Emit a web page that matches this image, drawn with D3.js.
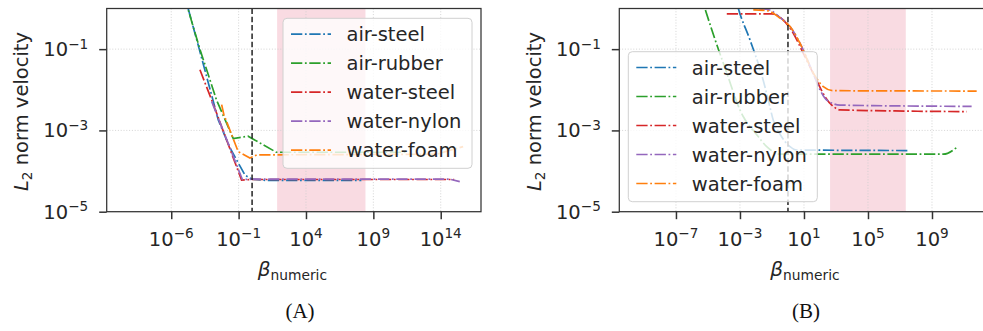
<!DOCTYPE html>
<html><head><meta charset="utf-8">
<script src="https://cdn.jsdelivr.net/npm/d3@7"></script>
<style>body{margin:0;background:#fff;overflow:hidden;} svg{display:block;}</style>
</head><body><svg id="c" width="983" height="331"></svg>
<script>
// ---------- data ----------
const seriesNames = ["air-steel", "air-rubber", "water-steel", "water-nylon", "water-foam"];
const seriesColors = ["#1f77b4", "#2ca02c", "#d62728", "#9467bd", "#ff7f0e"];

// Panel A
const aAirSteelX   = [7.9e-6, 1.8e-5, 1.2e-4, 3.1e-3, 2.2e-2, 0.30, 1, 10, 1.3e8];
const aAirSteelY   = [2.8, 1.0, 0.10, 1.8e-3, 3.8e-4, 7.9e-5, 6.3e-5, 5.9e-5, 5.9e-5];
const aAirRubberX  = [7.9e-6, 1.7e-5, 1.4e-4, 2.3e-3, 4.0e-2, 0.5, 63, 3.2e11];
const aAirRubberY  = [1.9, 1.0, 9.5e-2, 5.6e-3, 6.3e-4, 7.2e-4, 2.9e-4, 2.9e-4];
const aWaterSteelX = [1.35e-4, 1e-3, 0.166, 1, 1e15];
const aWaterSteelY = [3.1e-2, 5.6e-3, 6.0e-5, 6.2e-5, 6.2e-5];
const aWaterNylonX = [1e-3, 0.19, 1, 5e14, 2.6e15];
const aWaterNylonY = [5.2e-3, 6.2e-5, 6.3e-5, 6.3e-5, 5.5e-5];
const aWaterFoamX  = [5.5e-3, 7.9e-3, 9.3e-2, 0.69, 2.2, 5e13, 4.6e15];
const aWaterFoamY  = [4.3e-3, 2.5e-3, 3.0e-4, 2.1e-4, 2.5e-4, 2.6e-4, 4.0e-4];

// Panel B
const bAirSteelX   = [4.0e-4, 7.9e-4, 4.2e-3, 2.3e-2, 5.9e-2, 0.12, 0.35, 1.35, 3.5, 2.9e7];
const bAirSteelY   = [2.8, 1.0, 0.17, 2.3e-2, 5.6e-3, 1.8e-3, 7.6e-4, 4.0e-4, 3.3e-4, 3.2e-4];
const bAirRubberX  = [3.2e-6, 6.5e-6, 2.8e-5, 1.5e-4, 1e-3, 1.6e-3, 1e-2, 4.7e-2, 0.32, 5.1e9, 3.8e10];
const bAirRubberY  = [2.5, 1.0, 0.17, 2.6e-2, 3.2e-3, 2.2e-3, 8.3e-4, 4.0e-4, 2.6e-4, 2.6e-4, 3.9e-4];
const bWaterSteelX = [1.5e-4, 9.5e-2, 0.51, 2.1, 9.1, 62, 204, 676, 1.8e3, 1.5e11];
const bWaterSteelY = [0.74, 0.74, 0.52, 0.25, 7.9e-2, 1.7e-2, 6.8e-3, 3.9e-3, 3.2e-3, 2.9e-3];
const bWaterNylonX = [1.6e-2, 6.3e-2, 0.32, 1.35, 5.6, 38, 100, 263, 1.8e3, 3.0e11];
const bWaterNylonY = [0.98, 0.93, 0.6, 0.36, 0.14, 2.5e-2, 1e-2, 5.6e-3, 4.2e-3, 3.9e-3];
const bWaterFoamX  = [6.8e-3, 4.7e-2, 0.32, 1.35, 5.6, 38, 162, 676, 6.2e11];
const bWaterFoamY  = [0.93, 0.89, 0.58, 0.36, 0.14, 2.6e-2, 1.2e-2, 9.5e-3, 9.3e-3];

// axes / annotations
const aXDomain = [1.62e-11, 9.77e16];
const bXDomain = [2.88e-11, 7.08e12];
const yDomain = [1e-5, 1];
const aXTicks = [1e-6, 1e-1, 1e4, 1e9, 1e14];
const aXTickExp = ["−6", "−1", "4", "9", "14"];
const bXTicks = [1e-7, 1e-3, 1e1, 1e5, 1e9];
const bXTickExp = ["−7", "−3", "1", "5", "9"];
const yTicks = [1e-1, 1e-3, 1e-5];
const yTickExp = ["−1", "−3", "−5"];
const aBand = [72, 2.6e8];
const bBand = [427, 2.3e7];
const refLine = 1;
const panelLabels = ["(A)", "(B)"];

// ---------- drawing ----------
const svg = d3.select("#c");
const FONT = "DejaVu Sans";
const TXT = "#262626";
const DASH = "11.3,2.6,1.8,2.6";

function drawPanel(cfg) {
  const {id, left, right, top, bottom, xDomain, xTicks, xTickExp, band, series, legendPos, curve, label, labelX} = cfg;
  const x = d3.scaleLog().domain(xDomain).range([left, right]);
  const y = d3.scaleLog().domain(yDomain).range([bottom, top]);
  const g = svg.append("g");

  g.append("clipPath").attr("id", "clip" + id)
    .append("rect").attr("x", left).attr("y", top).attr("width", right - left).attr("height", bottom - top);

  const plot = g.append("g").attr("clip-path", `url(#clip${id})`);

  // band
  plot.append("rect")
    .attr("x", x(band[0])).attr("y", top)
    .attr("width", x(band[1]) - x(band[0])).attr("height", bottom - top)
    .attr("fill", "#f5c3cf").attr("opacity", 0.6);

  // grid
  plot.selectAll(".gx").data(xTicks).enter().append("line")
    .attr("x1", d => x(d)).attr("x2", d => x(d)).attr("y1", top).attr("y2", bottom)
    .attr("stroke", "#cfcfcf").attr("stroke-width", 0.9).attr("stroke-dasharray", "1,1.8");
  plot.selectAll(".gy").data(yTicks).enter().append("line")
    .attr("x1", left).attr("x2", right).attr("y1", d => y(d)).attr("y2", d => y(d))
    .attr("stroke", "#cfcfcf").attr("stroke-width", 0.9).attr("stroke-dasharray", "1,1.8");

  // lines
  const line = d3.line().x(d => x(d[0])).y(d => y(d[1])).curve(curve);
  series.forEach((s, i) => {
    const pts = s.x.map((v, k) => [v, s.y[k]]);
    plot.append("path").attr("d", line(pts))
      .attr("fill", "none").attr("stroke", seriesColors[i])
      .attr("stroke-width", 1.7).attr("stroke-dasharray", DASH);
  });

  // reference dashed line
  plot.append("line")
    .attr("x1", x(refLine)).attr("x2", x(refLine)).attr("y1", top).attr("y2", bottom)
    .attr("stroke", "#222").attr("stroke-width", 1.5).attr("stroke-dasharray", "5.5,2.8");

  // spines
  g.append("rect").attr("x", left).attr("y", top).attr("width", right - left).attr("height", bottom - top)
    .attr("fill", "none").attr("stroke", "#333").attr("stroke-width", 1.25);

  // x axis
  const xAxis = d3.axisBottom(x).tickValues(xTicks).tickSize(7.5).tickFormat("");
  const xa = g.append("g").attr("transform", `translate(0,${bottom})`).call(xAxis);
  xa.select(".domain").remove();
  xa.selectAll(".tick line").attr("stroke", "#333").attr("stroke-width", 1.5);
  xTicks.forEach((t, i) => {
    const tx = g.append("text").attr("x", x(t)).attr("y", 245.5).attr("text-anchor", "middle")
      .attr("font-family", FONT).attr("font-size", 19.5).attr("fill", TXT);
    tx.append("tspan").text("10");
    tx.append("tspan").attr("font-size", 13.6).attr("dy", -7.5).text(xTickExp[i]);
  });

  // y axis
  const yAxis = d3.axisLeft(y).tickValues(yTicks).tickSize(7.5).tickFormat("");
  const ya = g.append("g").attr("transform", `translate(${left},0)`).call(yAxis);
  ya.select(".domain").remove();
  ya.selectAll(".tick line").attr("stroke", "#333").attr("stroke-width", 1.5);
  yTicks.forEach((t, i) => {
    const ty = g.append("text").attr("x", left - 18.5).attr("y", y(t) + 7).attr("text-anchor", "end")
      .attr("font-family", FONT).attr("font-size", 19.5).attr("fill", TXT);
    ty.append("tspan").text("10");
    ty.append("tspan").attr("font-size", 13.6).attr("dy", -7.5).text(yTickExp[i]);
  });

  // axis labels
  const cx = (left + right) / 2;
  const xl = g.append("text").attr("x", cx - 1.5).attr("y", 276).attr("text-anchor", "middle")
    .attr("font-family", FONT).attr("fill", TXT);
  xl.append("tspan").attr("font-size", 20).attr("font-style", "italic").text("β");
  xl.append("tspan").attr("font-size", 13.8).attr("dy", 4).text("numeric");

  const yl = g.append("text").attr("transform", `translate(${left - 78.5},${111.5}) rotate(-90)`)
    .attr("text-anchor", "middle").attr("font-family", FONT).attr("font-size", 19.5).attr("fill", TXT);
  yl.append("tspan").attr("font-style", "italic").text("L");
  yl.append("tspan").attr("font-size", 13.6).attr("dy", 4).text("2");
  yl.append("tspan").attr("dy", -4).text(" norm velocity");

  // legend
  const [lx, ly] = legendPos;
  g.append("rect").attr("x", lx).attr("y", ly).attr("width", 189).attr("height", 150).attr("rx", 4)
    .attr("fill", "#fff").attr("fill-opacity", 0.8).attr("stroke", "#d0d0d0").attr("stroke-width", 1);
  seriesNames.forEach((n, i) => {
    const yy = ly + 15.8 + i * 29;
    g.append("line").attr("x1", lx + 8).attr("x2", lx + 48).attr("y1", yy).attr("y2", yy)
      .attr("stroke", seriesColors[i]).attr("stroke-width", 1.7).attr("stroke-dasharray", DASH);
    g.append("text").attr("x", lx + 63.5).attr("y", yy + 7).attr("font-family", FONT)
      .attr("font-size", 19.5).attr("fill", TXT).text(n);
  });

  // panel label
  g.append("text").attr("x", labelX).attr("y", 318).attr("text-anchor", "middle")
    .attr("font-family", "Liberation Serif").attr("font-size", 21).attr("fill", "#111").text(label);
}

drawPanel({
  id: "A", left: 106.7, right: 481, top: 8.5, bottom: 211.7,
  xDomain: aXDomain, xTicks: aXTicks, xTickExp: aXTickExp, band: aBand,
  series: [
    {x: aAirSteelX, y: aAirSteelY}, {x: aAirRubberX, y: aAirRubberY},
    {x: aWaterSteelX, y: aWaterSteelY}, {x: aWaterNylonX, y: aWaterNylonY},
    {x: aWaterFoamX, y: aWaterFoamY}
  ],
  legendPos: [283, 18.3], curve: d3.curveLinear, label: panelLabels[0], labelX: 300
});

drawPanel({
  id: "B", left: 619.3, right: 993.6, top: 8.5, bottom: 211.7,
  xDomain: bXDomain, xTicks: bXTicks, xTickExp: bXTickExp, band: bBand,
  series: [
    {x: bAirSteelX, y: bAirSteelY}, {x: bAirRubberX, y: bAirRubberY},
    {x: bWaterSteelX, y: bWaterSteelY}, {x: bWaterNylonX, y: bWaterNylonY},
    {x: bWaterFoamX, y: bWaterFoamY}
  ],
  legendPos: [628.3, 51.7], curve: d3.curveMonotoneX, label: panelLabels[1], labelX: 806
});
</script>
</body></html>
